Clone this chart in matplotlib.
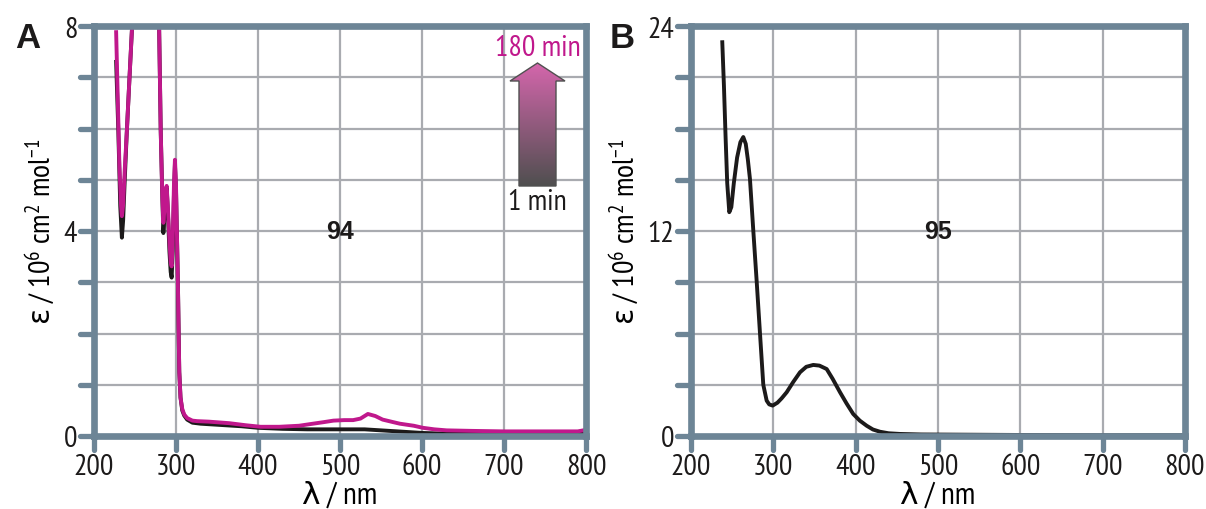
import matplotlib
matplotlib.use("Agg")
import matplotlib.pyplot as plt
import numpy as np
from matplotlib import font_manager
from matplotlib.markers import MarkerStyle, TICKLEFT, TICKDOWN
from matplotlib.patches import Polygon
from matplotlib.colors import LinearSegmentedColormap

available = {f.name for f in font_manager.fontManager.ttflist}
FONT = next(n for n in ["PT Sans Narrow", "Roboto Condensed", "Fira Sans Condensed",
                        "Open Sans Condensed", "Sofia Sans Semi Condensed",
                        "Source Sans 3", "DejaVu Sans"] if n in available)
BOLD = "Liberation Sans" if "Liberation Sans" in available else "DejaVu Sans"
plt.rcParams["font.family"] = [FONT, "DejaVu Sans"]
plt.rcParams["mathtext.fontset"] = "custom"
plt.rcParams["mathtext.rm"] = FONT
plt.rcParams["mathtext.it"] = FONT
plt.rcParams["mathtext.sf"] = "DejaVu Sans"

# ---- Panel A: compound 94, spectra after 1 min and 180 min ----
wl_a_1min = [227, 229.7, 232, 234, 235.5, 237.5, 240, 243, 246.3, 255, 265, 272, 279.4,
             281.4, 283.4, 284.6, 286, 287.5, 288.6, 290, 292, 293.5, 294.7, 296,
             297.5, 298.7, 300, 302.3, 304, 305.5, 307.6, 310, 313.6, 320, 330, 350,
             380, 400, 430, 460, 500, 530, 550, 570, 600, 620, 650, 700, 750, 800]
eps_a_1min = [7.3, 5.93, 4.49, 3.87, 4.2, 5.0, 5.93, 6.9, 7.94, 11.0, 12.0, 11.0, 8.0,
              5.93, 4.62, 3.96, 4.3, 4.75, 4.85, 4.4, 3.6, 3.2, 3.09, 3.6,
              4.7, 5.3, 4.8, 3.0, 1.25, 0.75, 0.5, 0.4, 0.32, 0.26, 0.24, 0.22,
              0.19, 0.16, 0.14, 0.13, 0.13, 0.13, 0.11, 0.09, 0.06, 0.05, 0.05, 0.05, 0.05, 0.05]

wl_a_180min = [227, 229, 231, 233, 234, 235.5, 237.5, 240, 243, 246.3, 255, 265, 272, 279.4,
               281.4, 283.4, 284.6, 286, 287.5, 288.6, 290, 292, 293.5, 294.7, 296,
               297.5, 298.7, 300, 302.3, 304, 305.5, 307.6, 310, 313.6, 320, 325.8, 340,
               365, 385, 403, 426, 450, 467, 480, 492, 505, 516, 525, 534, 543, 552,
               565, 573, 590, 601, 615, 630, 660, 700, 750, 790, 800]
eps_a_180min = [7.88, 6.57, 5.27, 4.49, 4.29, 4.5, 5.2, 5.93, 6.9, 7.94, 11.0, 12.0, 11.0, 8.0,
                5.93, 4.62, 4.16, 4.45, 4.8, 4.88, 4.5, 3.8, 3.4, 3.31, 3.8,
                4.9, 5.39, 4.9, 3.0, 1.25, 0.75, 0.53, 0.42, 0.35, 0.3, 0.29, 0.28,
                0.25, 0.21, 0.18, 0.18, 0.2, 0.24, 0.27, 0.3, 0.31, 0.31, 0.34, 0.43, 0.39, 0.32,
                0.27, 0.24, 0.2, 0.16, 0.13, 0.11, 0.1, 0.09, 0.09, 0.09, 0.12]

# ---- Panel B: compound 95 ----
wl_b = [238, 240, 242, 244, 246.5, 249, 252, 256, 260, 263.5, 266.5, 269, 271.6, 275.7,
        279.8, 283.8, 287.8, 291.9, 295, 299.2, 305, 310, 316.2, 324, 332.4, 340,
        348.5, 356, 364.8, 372, 381, 389, 397, 405, 413.4, 421, 429.5, 440, 453.8,
        480, 520, 560, 600, 650, 700, 750, 800]
eps_b = [23.05, 20.5, 17.5, 14.8, 13.1, 13.4, 14.8, 16.3, 17.2, 17.5, 17.1, 16.2, 15.05, 12.0,
         9.03, 6.0, 3.0, 2.07, 1.85, 1.78, 1.95, 2.2, 2.56, 3.15, 3.73, 4.05,
         4.16, 4.12, 3.92, 3.35, 2.56, 1.9, 1.29, 0.9, 0.6, 0.38, 0.25, 0.16, 0.12,
         0.09, 0.08, 0.07, 0.06, 0.05, 0.04, 0.04, 0.04]

x_ticks = [200, 300, 400, 500, 600, 700, 800]
ya_ticks = [0, 1, 2, 3, 4, 5, 6, 7, 8]
ya_labels = ["0", "", "", "", "4", "", "", "", "8"]
yb_ticks = [0, 3, 6, 9, 12, 15, 18, 21, 24]
yb_labels = ["0", "", "", "", "12", "", "", "", "24"]

SPINE = "#6d8596"
GRID = "#a9abb0"
MAGENTA = "#c0188c"
BLACK = "#1c1a1a"
FS = 21.5

fig = plt.figure(figsize=(12.06, 5.10), dpi=100)
W, H = 1206, 510
axA = fig.add_axes([94 / W, (H - 437) / H, 492 / W, 410 / H])
axB = fig.add_axes([691 / W, (H - 437) / H, 494 / W, 410 / H])

ylabel = r"$\mathsf{ε}$ / 10$^{6}$ cm$^{2}$ mol$^{\mathregular{-1}}$"


def style_axis(ax, yticks, ylabels, ymax):
    ax.set_xlim(200, 800)
    ax.set_ylim(0, ymax)
    ax.set_xticks(x_ticks)
    ax.set_xticklabels([str(t) for t in x_ticks])
    ax.set_yticks(yticks)
    ax.set_yticklabels(ylabels)
    ax.grid(True, color=GRID, linewidth=1.6, zorder=0)
    ax.set_axisbelow(True)
    for sp in ax.spines.values():
        sp.set_color(SPINE)
        sp.set_linewidth(4.8)
        sp.set_capstyle("projecting")
        sp.set_zorder(5)
    ax.tick_params(axis="both", length=10, width=3.8, color=SPINE,
                   labelsize=FS, labelcolor=BLACK, pad=2)
    for t in ax.yaxis.get_major_ticks():
        t.tick1line.set_marker(MarkerStyle(TICKLEFT, capstyle="round"))
    for t in ax.xaxis.get_major_ticks():
        t.tick1line.set_marker(MarkerStyle(TICKDOWN, capstyle="round"))
    ax.set_xlabel("λ / nm", fontsize=FS + 1, labelpad=1)
    ax.set_ylabel(ylabel, fontsize=FS, labelpad=5)


style_axis(axA, ya_ticks, ya_labels, 8)
style_axis(axB, yb_ticks, yb_labels, 24)

axA.plot(wl_a_1min, eps_a_1min, color=BLACK, lw=2.8, zorder=3, solid_joinstyle="round")
axA.plot(wl_a_180min, eps_a_180min, color=MAGENTA, lw=2.8, zorder=4, solid_joinstyle="round")
axB.plot(wl_b, eps_b, color=BLACK, lw=2.8, zorder=3, solid_joinstyle="round")

axA.text(0.5, 0.5, "94", fontsize=18, fontweight="bold", family=BOLD,
         ha="center", va="center", color=BLACK, transform=axA.transAxes)
axB.text(0.5, 0.5, "95", fontsize=18, fontweight="bold", family=BOLD,
         ha="center", va="center", color=BLACK, transform=axB.transAxes)

# gradient arrow from "1 min" up to "180 min"
ax_px = lambda px: 200 + (px - 94) / 0.82
ay_px = lambda py: (437 - py) / 51.25
shaft_l, shaft_r = ax_px(519), ax_px(556)
head_l, head_r = ax_px(510), ax_px(565)
tip_x = ax_px(537.5)
y_bot, y_base, y_tip = ay_px(187), ay_px(82), ay_px(64)
arrow_pts = [(shaft_l, y_bot), (shaft_r, y_bot), (shaft_r, y_base), (head_r, y_base),
             (tip_x, y_tip), (head_l, y_base), (shaft_l, y_base)]
arrow = Polygon(arrow_pts, closed=True, facecolor="none", edgecolor="#505050",
                lw=1.0, zorder=6)
axA.add_patch(arrow)
grad = np.linspace(0, 1, 256).reshape(-1, 1)
cmap = LinearSegmentedColormap.from_list("grey_to_pink", ["#4f4f4f", "#d466ac"])
img = axA.imshow(grad, cmap=cmap, origin="lower", aspect="auto",
                 extent=[head_l, head_r, y_bot, y_tip], zorder=5.5)
img.set_clip_path(arrow)
axA.text(tip_x, ay_px(49), "180 min", fontsize=FS, color=MAGENTA, ha="center", va="center")
axA.text(tip_x, ay_px(203), "1 min", fontsize=FS, color=BLACK, ha="center", va="center")

fig.text(28 / W, 1 - 38 / H, "A", fontsize=25, fontweight="bold", family=BOLD,
         ha="center", va="center", color=BLACK)
fig.text(622 / W, 1 - 38 / H, "B", fontsize=25, fontweight="bold", family=BOLD,
         ha="center", va="center", color=BLACK)

fig.savefig("out.png", dpi=100)
